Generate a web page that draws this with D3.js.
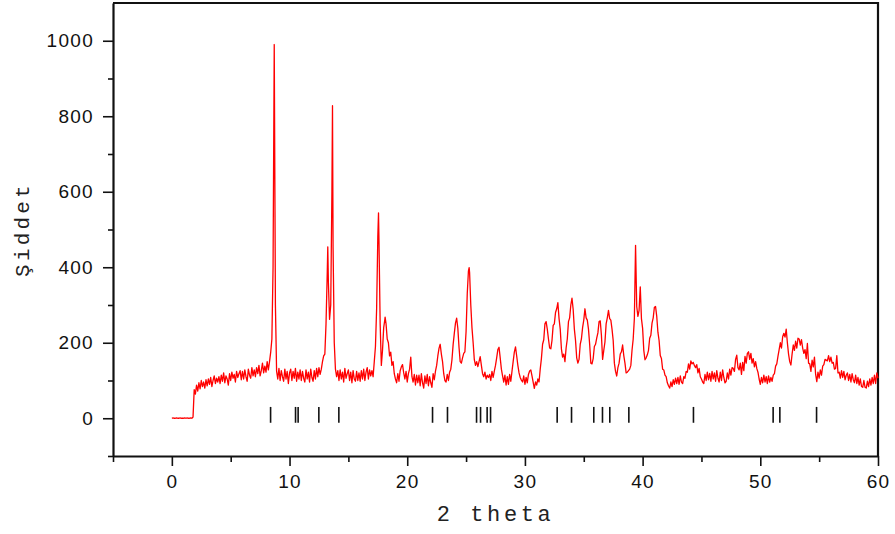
<!DOCTYPE html>
<html>
<head>
<meta charset="utf-8">
<script src="https://cdn.jsdelivr.net/npm/d3@7"></script>
<style>
  body { margin: 0; background: #fff; }
  .tick text { font-family: Arial, "Liberation Sans", sans-serif; }
</style>
</head>
<body>
<div id="container"></div>
<script>
/* DATA */
// intensity, one value every 0.1 degree from 0 to 60
const stepDeg = 0.1;
const counts = [
  0,1,0,0,1,0,0,1,0,0,
  0,1,0,1,0,0,1,0,3,76,
  64,88,72,94,78,100,84,96,80,102,
  86,104,90,108,84,100,112,92,106,96,
  110,92,114,98,120,94,112,104,88,118,
  100,122,106,116,96,124,108,118,126,102,
  124,104,128,110,98,130,114,106,134,112,
  128,110,134,118,140,112,126,146,120,138,
  122,150,128,150,175,210,400,990,300,125,
  104,132,100,126,110,98,130,104,124,92,
  120,130,100,124,106,132,98,122,104,128,
  100,124,106,96,128,104,122,96,130,108,
  98,126,104,132,110,134,116,130,150,165,
  170,250,380,360,262,300,600,450,200,130,
  110,126,100,128,104,122,96,132,106,118,
  128,100,122,94,126,104,98,124,100,120,
  98,126,104,130,100,122,134,104,128,112,
  126,110,150,190,290,480,470,250,140,180,
  240,262,250,210,200,165,175,140,150,118,
  104,94,118,98,126,136,142,120,104,124,
  96,118,130,162,110,96,116,88,114,94,
  114,86,118,94,80,112,92,116,86,110,
  94,82,118,102,125,140,165,185,196,170,
  150,118,100,96,116,100,122,130,155,195,
  225,252,265,238,188,150,146,160,172,176,
  230,330,390,385,300,240,200,155,140,150,
  137,150,163,140,118,110,122,104,114,108,
  116,100,124,108,125,140,160,182,188,160,
  130,112,96,114,88,110,90,116,98,124,
  150,175,189,165,140,120,108,101,96,112,
  90,108,94,116,125,128,112,96,79,96,
  88,104,96,130,158,196,208,250,256,236,
  210,186,184,206,246,250,280,290,306,264,
  236,184,162,170,150,186,210,256,266,300,
  318,288,236,206,160,146,156,196,210,240,
  260,290,266,260,236,196,146,144,158,190,
  196,212,226,256,258,220,156,180,202,250,
  266,286,264,260,236,206,146,124,112,134,
  146,170,176,194,166,146,120,122,126,130,
  140,180,210,265,458,296,270,286,348,264,
  238,180,155,160,168,180,212,220,252,266,
  294,296,270,228,206,166,158,130,128,114,
  110,94,86,80,96,84,102,90,106,92,
  108,90,112,96,92,110,106,124,122,144,
  130,152,144,148,140,134,142,120,132,110,
  104,96,92,116,100,122,102,119,98,124,
  104,120,98,126,106,96,122,100,128,108,
  94,98,120,104,130,114,134,132,124,156,
  167,134,128,146,116,148,126,164,146,172,
  176,156,172,146,158,136,150,132,122,104,
  90,108,94,114,96,110,92,112,96,108,
  98,114,118,138,144,164,182,200,186,216,
  225,215,236,200,170,150,141,170,194,180,
  204,186,212,210,194,208,186,172,182,158,
  198,146,144,124,154,136,162,116,97,122,
  106,128,114,138,142,156,154,152,166,150,
  162,146,148,130,132,166,120,122,106,126,
  108,124,102,114,120,100,116,96,118,102,
  94,114,92,108,88,104,84,82,100,82,
  80,98,84,104,88,108,92,114,92,120,
  106
];
// sharp maxima that fall between the 0.1 degree samples
const apexAngle = [13.25, 13.65, 17.56, 18.12, 25.26];
const apexCounts = [454, 828, 544, 268, 399];

// reference reflection positions (2 theta)
const refPeaks = [8.39, 10.51, 10.73, 12.49, 14.19, 22.15, 23.42, 25.89, 26.23, 26.79, 27.08,
  32.74, 33.96, 35.85, 36.59, 37.21, 38.83, 44.32, 51.09, 51.66, 54.78];

const xMajor = [0, 10, 20, 30, 40, 50, 60];
const xMinor = [-5, 5, 15, 25, 35, 45, 55];
const yMajor = [0, 200, 400, 600, 800, 1000];
const yMinor = [-100, 100, 300, 500, 700, 900];

/* CONSTANTS */
const width = 895,
  height = 534,
  margin = {top: 3, bottom: 78, left: 113, right: 17};

const scan = counts.map((c, i) => ({a: +(i * stepDeg).toFixed(2), c}))
  .concat(apexAngle.map((a, i) => ({a, c: apexCounts[i]})))
  .sort((p, q) => p.a - q.a);

/* SCALES */
const xScale = d3.scaleLinear()
  .domain([-5, 60])
  .range([margin.left, width - margin.right]);

const yScale = d3.scaleLinear()
  .domain([-100, 1100])
  .range([height - margin.bottom, margin.top]);

/* HTML ELEMENTS */
const svg = d3.select("#container")
  .append("svg")
  .attr("width", width)
  .attr("height", height);

// frame (top + right)
svg.append("path")
  .attr("d", `M${margin.left},${margin.top}H${width - margin.right}V${height - margin.bottom}`)
  .attr("fill", "none")
  .attr("stroke", "#111")
  .attr("stroke-width", 2.2);

// minor ticks
svg.append("g")
  .attr("transform", `translate(0,${height - margin.bottom})`)
  .call(d3.axisBottom(xScale).tickValues(xMinor).tickSize(6).tickFormat(""))
  .call(g => g.select(".domain").remove())
  .selectAll("line").attr("stroke", "#111").attr("stroke-width", 1.6);

svg.append("g")
  .attr("transform", `translate(${margin.left},0)`)
  .call(d3.axisLeft(yScale).tickValues(yMinor).tickSize(5).tickFormat(""))
  .call(g => g.select(".domain").remove())
  .selectAll("line").attr("stroke", "#111").attr("stroke-width", 1.6);

// major axes
const xAxis = svg.append("g")
  .attr("transform", `translate(0,${height - margin.bottom})`)
  .call(d3.axisBottom(xScale).tickValues(xMajor).tickFormat(d3.format("d"))
    .tickSize(10).tickSizeOuter(0).tickPadding(9));

const yAxis = svg.append("g")
  .attr("transform", `translate(${margin.left},0)`)
  .call(d3.axisLeft(yScale).tickValues(yMajor).tickFormat(d3.format("d"))
    .tickSize(10).tickSizeOuter(0).tickPadding(9));

[xAxis, yAxis].forEach(ax => {
  ax.select(".domain").attr("stroke", "#111").attr("stroke-width", 2.2);
  ax.selectAll("line").attr("stroke", "#111").attr("stroke-width", 1.6);
  ax.selectAll("text")
    .attr("fill", "#111")
    .style("font-size", "19px")
    .style("letter-spacing", "1.3px");
});

// reference sticks
svg.append("g")
  .selectAll("line")
  .data(refPeaks)
  .join("line")
  .attr("x1", d => xScale(d))
  .attr("x2", d => xScale(d))
  .attr("y1", yScale(30))
  .attr("y2", yScale(-12))
  .attr("stroke", "#111")
  .attr("stroke-width", 1.6);

// scan line
const line = d3.line()
  .x(d => xScale(d.a))
  .y(d => yScale(d.c));

svg.append("path")
  .datum(scan)
  .attr("d", line)
  .attr("fill", "none")
  .attr("stroke", "#ff0000")
  .attr("stroke-width", 1.3)
  .attr("stroke-linejoin", "round");

// axis titles
svg.append("text")
  .attr("x", (margin.left + width - margin.right) / 2)
  .attr("y", 521)
  .attr("text-anchor", "middle")
  .style("font-family", "'Courier New', 'Liberation Mono', monospace")
  .style("font-size", "22px")
  .style("letter-spacing", "3.6px")
  .attr("fill", "#222")
  .text("2 theta");

svg.append("text")
  .attr("transform", `translate(28.5,${(margin.top + height - margin.bottom) / 2}) rotate(-90)`)
  .attr("text-anchor", "middle")
  .style("font-family", "'Courier New', 'Liberation Mono', monospace")
  .style("font-size", "21px")
  .style("letter-spacing", "3.2px")
  .attr("fill", "#222")
  .text("Şiddet");
</script>
</body>
</html>
